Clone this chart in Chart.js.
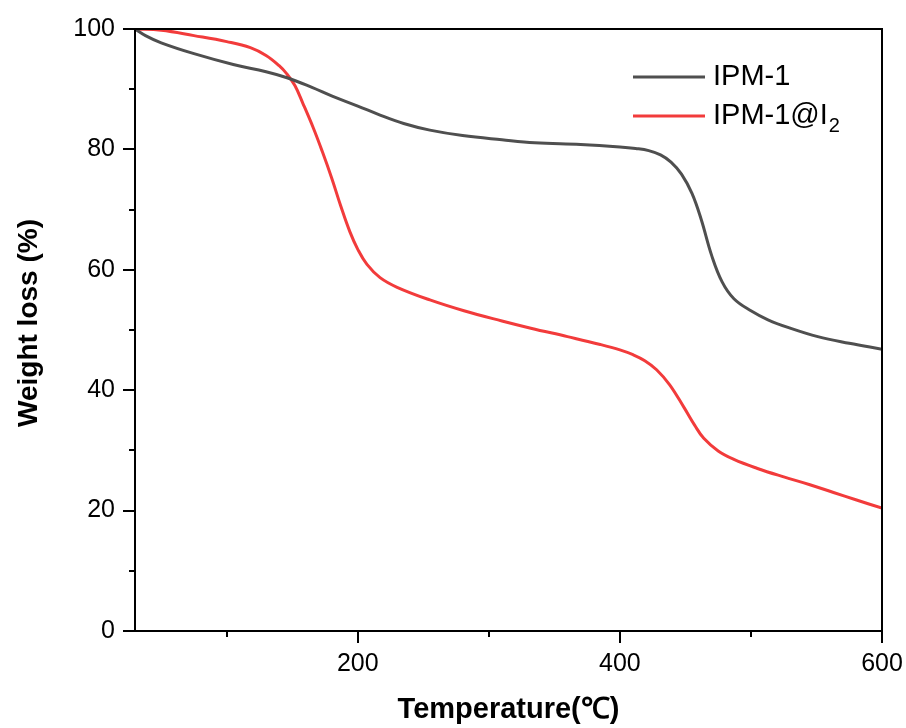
<!DOCTYPE html>
<html>
<head>
<meta charset="utf-8">
<script src="https://cdn.jsdelivr.net/npm/chart.js@4.4.1/dist/chart.umd.min.js"></script>
<style>
  html, body { margin: 0; padding: 0; background: #fff; }
  #wrap { width: 906px; height: 728px; }
</style>
</head>
<body>
<div id="wrap"><canvas id="tga"></canvas></div>
<script>
// TGA curves
const tempIPM = [30, 38, 50, 75, 105, 130, 146, 165, 180, 200, 217, 235, 255, 280, 310, 335, 370, 400, 412, 422, 431, 439, 447, 455, 462, 470, 478, 487, 500, 513, 530, 551, 575, 600];
const weightIPM = [100, 98.9, 97.7, 95.9, 94.1, 92.9, 91.9, 90.3, 88.9, 87.2, 85.7, 84.3, 83.2, 82.3, 81.6, 81.1, 80.8, 80.4, 80.15, 79.8, 79.1, 77.9, 75.9, 72.7, 68.4, 62.4, 58.0, 55.2, 53.2, 51.7, 50.3, 48.9, 47.8, 46.8];

const tempIPMI2 = [30, 50, 75, 100, 118, 130, 140, 146, 152, 158, 166, 173, 180, 187, 194, 200, 207, 217, 230, 255, 281, 310, 332, 360, 385, 400, 410, 419, 428, 438, 449, 457, 464, 475, 487, 505, 525, 545, 563, 580, 600];
const weightIPMI2 = [100, 99.8, 98.9, 97.9, 96.9, 95.6, 93.9, 92.5, 90.6, 87.7, 83.6, 79.6, 75.3, 70.6, 66.3, 63.4, 60.9, 58.7, 57.1, 55.0, 53.2, 51.5, 50.3, 48.9, 47.6, 46.7, 45.9, 44.9, 43.4, 40.9, 37.1, 34.2, 32.0, 29.9, 28.5, 27.0, 25.6, 24.3, 23.0, 21.8, 20.4];

const xTicks = [100, 200, 300, 400, 500, 600];
const xLabels = [200, 400, 600];
const yTicks = [0, 10, 20, 30, 40, 50, 60, 70, 80, 90, 100];
const yLabels = [0, 20, 40, 60, 80, 100];

const xTitle = 'Temperature(℃)';
const yTitle = 'Weight loss (%)';
const seriesNames = ['IPM-1', 'IPM-1@I'];

const grey = '#4f4f4f';
const red = '#f23b3b';

function toPoints(xs, ys) {
    return xs.map((x, i) => ({ x: x, y: ys[i] }));
}

// frame, ticks, titles and legend
const decor = {
    id: 'decor',
    afterDraw(chart) {
        const ctx = chart.ctx;
        const a = chart.chartArea;
        const xs = chart.scales.x, ys = chart.scales.y;
        ctx.save();
        ctx.strokeStyle = '#000';
        ctx.lineWidth = 2;
        ctx.strokeRect(a.left, a.top, a.right - a.left, a.bottom - a.top);

        ctx.beginPath();
        xTicks.forEach(v => {
            const px = Math.round(xs.getPixelForValue(v));
            const len = xLabels.includes(v) ? 12 : 6;
            ctx.moveTo(px, a.bottom);
            ctx.lineTo(px, a.bottom + len);
        });
        yTicks.forEach(v => {
            const py = Math.round(ys.getPixelForValue(v));
            const len = yLabels.includes(v) ? 12 : 6;
            ctx.moveTo(a.left, py);
            ctx.lineTo(a.left - len, py);
        });
        ctx.stroke();

        // axis titles
        ctx.fillStyle = '#000';
        ctx.font = 'bold 29px "Liberation Sans", Arial, sans-serif';
        ctx.textAlign = 'center';
        ctx.textBaseline = 'alphabetic';
        ctx.fillText(xTitle, (a.left + a.right) / 2, 718);
        ctx.save();
        ctx.translate(37, 323);
        ctx.rotate(-Math.PI / 2);
        ctx.font = 'bold 28px "Liberation Sans", Arial, sans-serif';
        ctx.fillText(yTitle, 0, 0);
        ctx.restore();

        // legend
        const rows = [{ c: grey, y: 77 }, { c: red, y: 116 }];
        ctx.lineWidth = 3;
        ctx.font = '29px "Liberation Sans", Arial, sans-serif';
        ctx.textAlign = 'left';
        ctx.textBaseline = 'middle';
        rows.forEach((r, i) => {
            ctx.strokeStyle = r.c;
            ctx.beginPath();
            ctx.moveTo(633, r.y);
            ctx.lineTo(705, r.y);
            ctx.stroke();
            ctx.fillText(seriesNames[i], 713, r.y);
            if (i === 1) {
                const w = ctx.measureText(seriesNames[i]).width;
                ctx.font = '20px "Liberation Sans", Arial, sans-serif';
                ctx.fillText('2', 713 + w + 1, r.y + 10);
                ctx.font = '29px "Liberation Sans", Arial, sans-serif';
            }
        });
        ctx.restore();
    }
};

new Chart(document.getElementById('tga'), {
    type: 'line',
    data: {
        datasets: [
            {
                label: seriesNames[0],
                data: toPoints(tempIPM, weightIPM),
                borderColor: grey,
                borderWidth: 3,
                pointRadius: 0,
                tension: 0.4
            },
            {
                label: seriesNames[1] + '2',
                data: toPoints(tempIPMI2, weightIPMI2),
                borderColor: red,
                borderWidth: 3,
                pointRadius: 0,
                tension: 0.4
            }
        ]
    },
    options: {
        responsive: true,
        maintainAspectRatio: false,
        animation: false,
        layout: { padding: { top: 29, right: 24, left: 0, bottom: 0 } },
        plugins: { legend: { display: false }, tooltip: { enabled: false } },
        scales: {
            x: {
                type: 'linear',
                min: 30,
                max: 600,
                grid: { display: false, drawTicks: false },
                border: { display: false },
                afterBuildTicks: s => { s.ticks = xTicks.map(v => ({ value: v })); },
                afterFit: s => { s.height = 97; s.paddingLeft = 0; s.paddingRight = 0; },
                ticks: {
                    autoSkip: false,
                    maxRotation: 0,
                    padding: 18,
                    color: '#000',
                    font: { family: '"Liberation Sans", Arial, sans-serif', size: 25 },
                    callback: v => xLabels.includes(v) ? String(v) : ''
                }
            },
            y: {
                min: 0,
                max: 100,
                grid: { display: false, drawTicks: false },
                border: { display: false },
                afterBuildTicks: s => { s.ticks = yTicks.map(v => ({ value: v })); },
                afterFit: s => { s.width = 135; s.paddingTop = 0; s.paddingBottom = 0; },
                ticks: {
                    autoSkip: false,
                    padding: 20,
                    color: '#000',
                    font: { family: '"Liberation Sans", Arial, sans-serif', size: 25 },
                    callback: v => yLabels.includes(v) ? String(v) : ''
                }
            }
        }
    },
    plugins: [decor]
});
</script>
</body>
</html>
